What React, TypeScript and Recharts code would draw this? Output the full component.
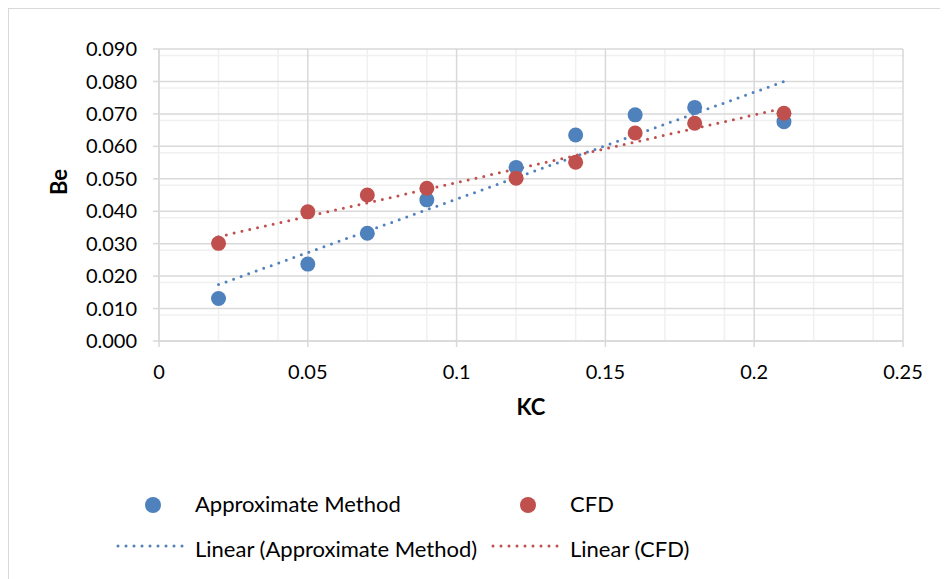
import {
  CartesianGrid,
  Scatter,
  ScatterChart,
  XAxis,
  YAxis,
} from 'recharts';

const kcValues = [0.02, 0.05, 0.07, 0.09, 0.12, 0.14, 0.16, 0.18, 0.21];
const approxBe = [0.0131, 0.0237, 0.0332, 0.0435, 0.0535, 0.0635, 0.0697, 0.072, 0.0676];
const cfdBe = [0.0301, 0.0398, 0.045, 0.0471, 0.0502, 0.0551, 0.0641, 0.0671, 0.0702];

const xTicks = [0, 0.05, 0.1, 0.15, 0.2, 0.25];
const yTicks = [0, 0.01, 0.02, 0.03, 0.04, 0.05, 0.06, 0.07, 0.08, 0.09];
const xMinor = [0.01, 0.02, 0.03, 0.04, 0.06, 0.07, 0.08, 0.09, 0.11, 0.12, 0.13, 0.14, 0.16, 0.17, 0.18, 0.19, 0.21, 0.22, 0.23, 0.24];
const yMinor = [
  0.002, 0.004, 0.006, 0.008, 0.012, 0.014, 0.016, 0.018, 0.022, 0.024, 0.026, 0.028,
  0.032, 0.034, 0.036, 0.038, 0.042, 0.044, 0.046, 0.048, 0.052, 0.054, 0.056, 0.058,
  0.062, 0.064, 0.066, 0.068, 0.072, 0.074, 0.076, 0.078, 0.082, 0.084, 0.086, 0.088,
];

const BLUE = '#4f81bd';
const RED = '#c0504d';
const FONT = 'Lato, "Open Sans", sans-serif';

const approxData = kcValues.map((kc, i) => ({ kc, be: approxBe[i] }));
const cfdData = kcValues.map((kc, i) => ({ kc, be: cfdBe[i] }));

// least squares trendline, like Excel's "Linear" trendline
function trend(xs: number[], ys: number[]) {
  const n = xs.length;
  const mx = xs.reduce((a, b) => a + b, 0) / n;
  const my = ys.reduce((a, b) => a + b, 0) / n;
  let sxy = 0;
  let sxx = 0;
  xs.forEach((x, i) => {
    sxy += (x - mx) * (ys[i] - my);
    sxx += (x - mx) * (x - mx);
  });
  const slope = sxy / sxx;
  const x0 = Math.min(...xs);
  const x1 = Math.max(...xs);
  return [
    { kc: x0, be: my + slope * (x0 - mx) },
    { kc: x1, be: my + slope * (x1 - mx) },
  ];
}

const approxTrend = trend(kcValues, approxBe);
const cfdTrend = trend(kcValues, cfdBe);

const noShape = () => <g />;

const dotted = (color: string) => ({
  stroke: color,
  strokeWidth: 3,
  strokeDasharray: '0 8',
  strokeLinecap: 'round' as const,
});

function LegendRow() {
  const text = { position: 'absolute' as const, fontSize: 22, color: '#000', lineHeight: '26px' };
  const dot = (color: string, left: number) => (
    <div style={{ position: 'absolute', left, top: 488, width: 16, height: 16, borderRadius: 8, background: color }} />
  );
  const line = (color: string, left: number, width: number) => (
    <svg style={{ position: 'absolute', left, top: 534 }} width={width + 4} height={6}>
      <line x1={2} y1={3} x2={width + 2} y2={3} {...dotted(color)} />
    </svg>
  );
  return (
    <>
      {dot(BLUE, 136)}
      <div style={{ ...text, left: 186, top: 482 }}>Approximate Method</div>
      {dot(RED, 511)}
      <div style={{ ...text, left: 561, top: 482 }}>CFD</div>
      {line(BLUE, 107, 69)}
      <div style={{ ...text, left: 186, top: 527 }}>Linear (Approximate Method)</div>
      {line(RED, 482, 69)}
      <div style={{ ...text, left: 561, top: 527 }}>Linear (CFD)</div>
    </>
  );
}

export default function App() {
  return (
    <div
      style={{
        position: 'relative',
        width: 939,
        height: 570,
        overflow: 'hidden',
        borderTop: '1px solid #d9d9d9',
        borderLeft: '1px solid #d9d9d9',
        fontFamily: FONT,
        background: '#fff',
      }}
    >
      <ScatterChart width={939} height={570} margin={{ top: 40, right: 45, left: 0, bottom: 0 }}>
        <CartesianGrid
          stroke="#f0f0f0"
          strokeWidth={1.5}
          horizontalValues={yMinor}
          verticalValues={xMinor}
        />
        <CartesianGrid stroke="#d9d9d9" strokeWidth={1.5} horizontalValues={yTicks} verticalValues={xTicks} />
        <XAxis
          type="number"
          dataKey="kc"
          domain={[0, 0.25]}
          ticks={xTicks}
          height={238}
          tickSize={6}
          tickMargin={18}
          stroke="#d9d9d9"
          strokeWidth={1.5}
          tick={{ fill: '#000', fontSize: 20, fontFamily: FONT }}
          label={{ value: 'KC', position: 'insideTop', offset: 58, fill: '#000', fontSize: 22, fontWeight: 'bold', fontFamily: FONT }}
        />
        <YAxis
          type="number"
          dataKey="be"
          domain={[0, 0.09]}
          ticks={yTicks}
          width={150}
          tickSize={6}
          tickMargin={16}
          stroke="#d9d9d9"
          strokeWidth={1.5}
          tickFormatter={(v: number) => v.toFixed(3)}
          tick={{ fill: '#000', fontSize: 20, fontFamily: FONT }}
          label={{ value: 'Be', angle: -90, position: 'insideLeft', offset: 50, fill: '#000', fontSize: 22, fontWeight: 'bold', fontFamily: FONT }}
        />
        <Scatter data={approxTrend} shape={noShape} line={dotted(BLUE)} lineType="joint" isAnimationActive={false} legendType="none" />
        <Scatter data={cfdTrend} shape={noShape} line={dotted(RED)} lineType="joint" isAnimationActive={false} legendType="none" />
        <Scatter
          data={approxData}
          fill={BLUE}
          isAnimationActive={false}
          shape={(p: any) => <circle cx={p.cx} cy={p.cy} r={7.5} fill={BLUE} />}
        />
        <Scatter
          data={cfdData}
          fill={RED}
          isAnimationActive={false}
          shape={(p: any) => <circle cx={p.cx} cy={p.cy} r={7.5} fill={RED} />}
        />
      </ScatterChart>
      <LegendRow />
    </div>
  );
}
